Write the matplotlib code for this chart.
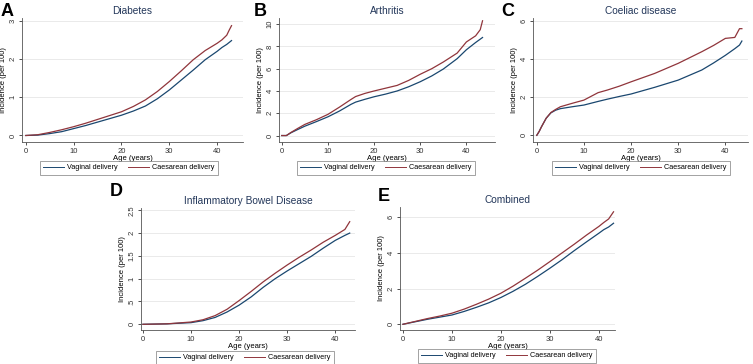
import numpy as np
import matplotlib
matplotlib.use("Agg")
import matplotlib.pyplot as plt

plt.rcParams["font.family"] = ["Liberation Sans", "DejaVu Sans"]

# age grid (years) and cumulative incidence (per 100)
age_a = [0, 2.5, 5, 7.5, 10, 12.5, 15, 17.5, 20, 22.5, 25, 27.5, 30, 32.5, 35, 37.5, 40, 41, 42, 42.5, 43]
diab_vag = [0, 0.01, 0.05, 0.1, 0.18, 0.26, 0.35, 0.44, 0.53, 0.64, 0.77, 0.96, 1.19, 1.45, 1.71,
            1.98, 2.2, 2.3, 2.38, 2.43, 2.48]
diab_ces = [0, 0.02, 0.08, 0.15, 0.23, 0.32, 0.42, 0.52, 0.62, 0.76, 0.93, 1.15, 1.41, 1.69, 1.98,
            2.22, 2.41, 2.5, 2.62, 2.75, 2.87]

age_b = [0, 1, 2, 3.5, 5, 7.5, 10, 12.5, 15, 16, 18, 20, 22.5, 25, 27.5, 30, 32.5, 35, 38, 40, 42, 43, 43.5]
arth_vag = [0, 0, 0.25, 0.55, 0.84, 1.25, 1.68, 2.2, 2.8, 3.0, 3.25, 3.48, 3.72, 4.0, 4.38, 4.83,
            5.35, 5.97, 6.9, 7.7, 8.35, 8.65, 8.8]
arth_ces = [0, 0, 0.28, 0.65, 1.0, 1.42, 1.9, 2.55, 3.24, 3.5, 3.78, 4.0, 4.25, 4.5, 4.95, 5.5,
            6.0, 6.6, 7.4, 8.4, 8.95, 9.5, 10.3]

age_c = [0, 0.5, 1, 2, 3, 4, 5, 7.5, 10, 13, 15, 17.5, 20, 25, 30, 35, 37.5, 40, 42, 43, 43.5]
coel_vag = [0, 0.2, 0.45, 0.9, 1.18, 1.32, 1.4, 1.5, 1.59, 1.78, 1.9, 2.04, 2.17, 2.52, 2.9, 3.43,
            3.8, 4.2, 4.55, 4.74, 4.95]
coel_ces = [0, 0.2, 0.45, 0.9, 1.2, 1.36, 1.5, 1.68, 1.85, 2.24, 2.38, 2.58, 2.81, 3.25, 3.78,
            4.39, 4.72, 5.09, 5.14, 5.6, 5.6]

age_d = [0, 5, 10, 12.5, 15, 17.5, 20, 22.5, 25, 27.5, 30, 32.5, 35, 37.5, 40, 42, 43]
ibd_vag = [0, 0.01, 0.036, 0.08, 0.15, 0.27, 0.42, 0.6, 0.81, 1.0, 1.17, 1.33, 1.49, 1.67, 1.84,
           1.95, 2.0]
ibd_ces = [0, 0.01, 0.05, 0.1, 0.19, 0.33, 0.52, 0.72, 0.93, 1.12, 1.3, 1.47, 1.63, 1.8, 1.95,
           2.08, 2.25]

age_e = [0, 2.5, 5, 7.5, 10, 12.5, 15, 17.5, 20, 22.5, 25, 27.5, 30, 32.5, 35, 37.5, 40, 41, 42, 43]
comb_vag = [0, 0.14, 0.28, 0.4, 0.52, 0.72, 0.95, 1.2, 1.5, 1.85, 2.24, 2.68, 3.14, 3.62, 4.13,
            4.62, 5.1, 5.3, 5.45, 5.66]
comb_ces = [0, 0.16, 0.32, 0.46, 0.62, 0.85, 1.12, 1.41, 1.74, 2.14, 2.58, 3.03, 3.51, 4.0, 4.49,
            5.0, 5.48, 5.7, 5.9, 6.3]

W, H = 753, 364
fig = plt.figure(figsize=(W / 100, H / 100), dpi=100)

navy = "#1a476f"
maroon = "#90353b"


def px_axes(l, r, t, b):
    return fig.add_axes([l / W, 1 - b / H, (r - l) / W, (b - t) / H])


panels = [
    # letter, title, box (l, r, t, b), xlim, ylim, yticks, labels, x, vag, ces, letter pos, legend pos
    ("A", "Diabetes", (22, 243, 18, 142), (-0.8, 45.4), (-0.17, 3.07),
     [0, 1, 2, 3], ["0", "1", "2", "3"], age_a, diab_vag, diab_ces, (1, 3), (129, 161)),
    ("B", "Arthritis", (279, 495, 18, 142), (-0.6, 46.2), (-0.58, 10.55),
     [0, 2, 4, 6, 8, 10], ["0", "2", "4", "6", "8", "10"], age_b, arth_vag, arth_ces, (254, 3), (386, 161)),
    ("C", "Coeliac disease", (533, 748, 18, 142), (-0.8, 44.8), (-0.35, 6.16),
     [0, 2, 4, 6], ["0", "2", "4", "6"], age_c, coel_vag, coel_ces, (501, 3), (641, 161)),
    ("D", "Inflammatory Bowel Disease", (141, 355, 208, 330), (-0.4, 44.1), (-0.125, 2.55),
     [0, 0.5, 1, 1.5, 2, 2.5], ["0", ".5", "1", "1.5", "2", "2.5"], age_d, ibd_vag, ibd_ces, (110, 183), (245, 351)),
    ("E", "Combined", (400, 615, 207, 330), (-0.6, 43.3), (-0.32, 6.57),
     [0, 2, 4, 6], ["0", "2", "4", "6"], age_e, comb_vag, comb_ces, (378, 188), (507, 349)),
]

for (letter, title, box, xlim, ylim, yt, ytl, x, vag, ces, lpos, lgpos) in panels:
    ax = px_axes(*box)
    ax.plot(x, vag, color=navy, lw=0.9, label="Vaginal delivery")
    ax.plot(x, ces, color=maroon, lw=0.9, label="Caesarean delivery")
    ax.set_xlim(*xlim)
    ax.set_ylim(*ylim)
    ax.set_xticks([0, 10, 20, 30, 40])
    ax.set_yticks(yt)
    ax.set_yticklabels(ytl, rotation=90, va="center")
    ax.tick_params(labelsize=5.5, length=2.5, width=0.6, pad=1.5, colors="#333333")
    ax.grid(axis="y", color="#e6e6e6", lw=0.6)
    ax.set_axisbelow(True)
    for s in ["top", "right"]:
        ax.spines[s].set_visible(False)
    for s in ["left", "bottom"]:
        ax.spines[s].set_color("#555555")
        ax.spines[s].set_linewidth(0.6)
    ax.set_title(title, fontsize=7.3, color="#23375a", pad=3)
    ax.set_xlabel("Age (years)", fontsize=5.5, labelpad=0.5)
    ax.set_ylabel("Incidence (per 100)", fontsize=5.5, labelpad=1.5)
    fig.text(lpos[0] / W, 1 - lpos[1] / H, letter, fontsize=13, fontweight="bold",
             va="top", ha="left")
    leg = ax.legend(loc="upper center", bbox_to_anchor=(lgpos[0] / W, 1 - lgpos[1] / H),
                    bbox_transform=fig.transFigure, ncol=2, fontsize=5.2, frameon=True,
                    fancybox=False, handlelength=2.9, columnspacing=1.4, borderpad=0.45,
                    handletextpad=0.45, borderaxespad=0)
    for line in leg.get_lines():
        line.set_linewidth(0.7)
    leg.get_frame().set_edgecolor("#777777")
    leg.get_frame().set_linewidth(0.6)

fig.savefig("out.png", dpi=100)
